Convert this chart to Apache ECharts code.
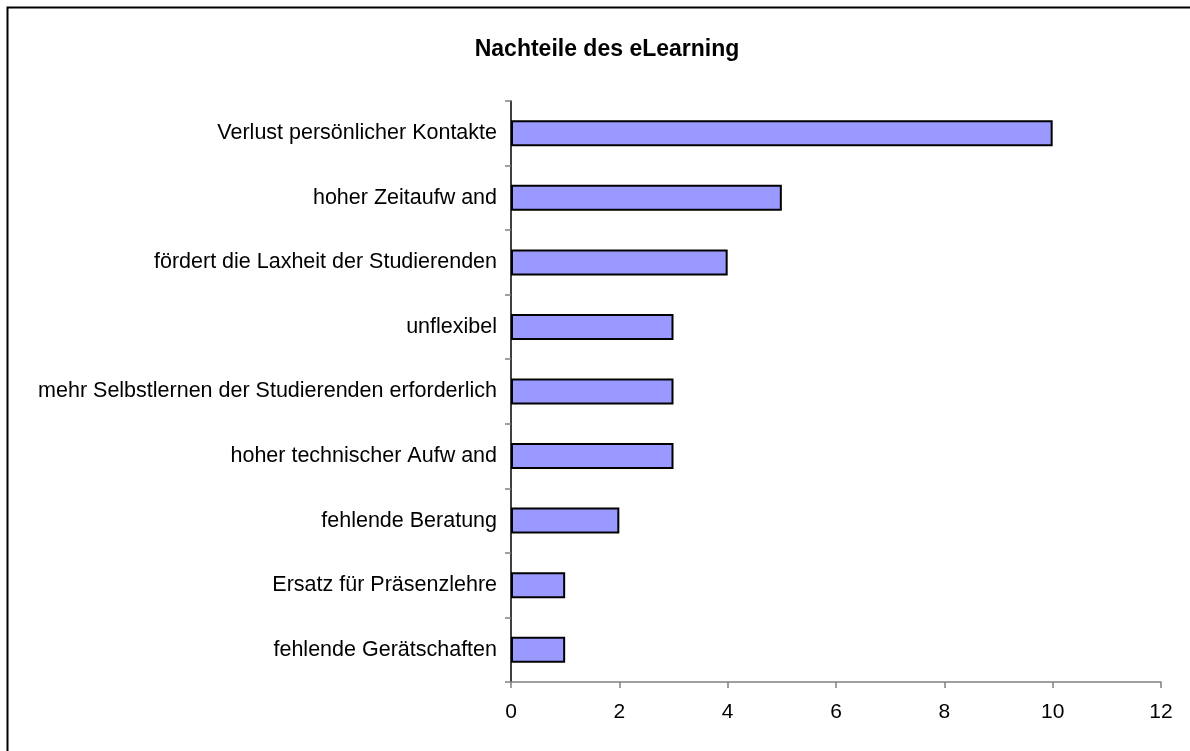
<!DOCTYPE html>
<html>
<head>
<meta charset="utf-8">
<script src="https://cdn.jsdelivr.net/npm/echarts@6/dist/echarts.min.js"></script>
<style>
  html, body { margin: 0; padding: 0; background: #fff; }
  #chart { width: 1190px; height: 751px; }
</style>
</head>
<body>
<div id="chart"></div>
<script>
// Kategorien von unten nach oben (ECharts zeichnet category-y von unten)
var categories = [
  "fehlende Gerätschaften",
  "Ersatz für Präsenzlehre",
  "fehlende Beratung",
  "hoher technischer Aufw and",
  "mehr Selbstlernen der Studierenden erforderlich",
  "unflexibel",
  "fördert die Laxheit der Studierenden",
  "hoher Zeitaufw and",
  "Verlust persönlicher Kontakte"
];
var values = [1, 1, 2, 3, 3, 3, 4, 5, 10];
var xTicks = [0, 2, 4, 6, 8, 10, 12];

var chart = echarts.init(document.getElementById("chart"));
chart.setOption({
  animation: false,
  backgroundColor: "#fff",
  textStyle: { fontFamily: "Liberation Sans, Arial, sans-serif" },
  title: {
    text: "Nachteile des eLearning",
    left: 602,
    textAlign: "center",
    top: 33,
    textStyle: { fontSize: 23, fontWeight: "bold", color: "#000" }
  },
  graphic: [
    {
      type: "rect",
      shape: { x: 7.5, y: 7.5, width: 1200, height: 800 },
      style: { fill: "none", stroke: "#000", lineWidth: 2 }
    }
  ],
  grid: {
    left: 511,
    right: 29,
    top: 101,
    bottom: 69,
    containLabel: false
  },
  xAxis: {
    type: "value",
    min: xTicks[0],
    max: xTicks[xTicks.length - 1],
    interval: 2,
    splitLine: { show: false },
    axisLine: { show: true, lineStyle: { color: "#808080", width: 1.5 } },
    axisTick: { show: true, length: 6, lineStyle: { color: "#808080", width: 1.5 } },
    axisLabel: { color: "#000", fontSize: 21, margin: 20 }
  },
  yAxis: {
    type: "category",
    data: categories,
    axisLine: { show: true, lineStyle: { color: "#000", width: 1.5 } },
    axisTick: { show: true, length: 6, lineStyle: { color: "#808080", width: 1.5 } },
    axisLabel: { color: "#000", fontSize: 21.5, margin: 14 }
  },
  series: [
    {
      type: "bar",
      data: values,
      barWidth: 26,
      itemStyle: { color: "#9999FF", borderColor: "#000", borderWidth: 2 }
    }
  ]
});
</script>
</body>
</html>
